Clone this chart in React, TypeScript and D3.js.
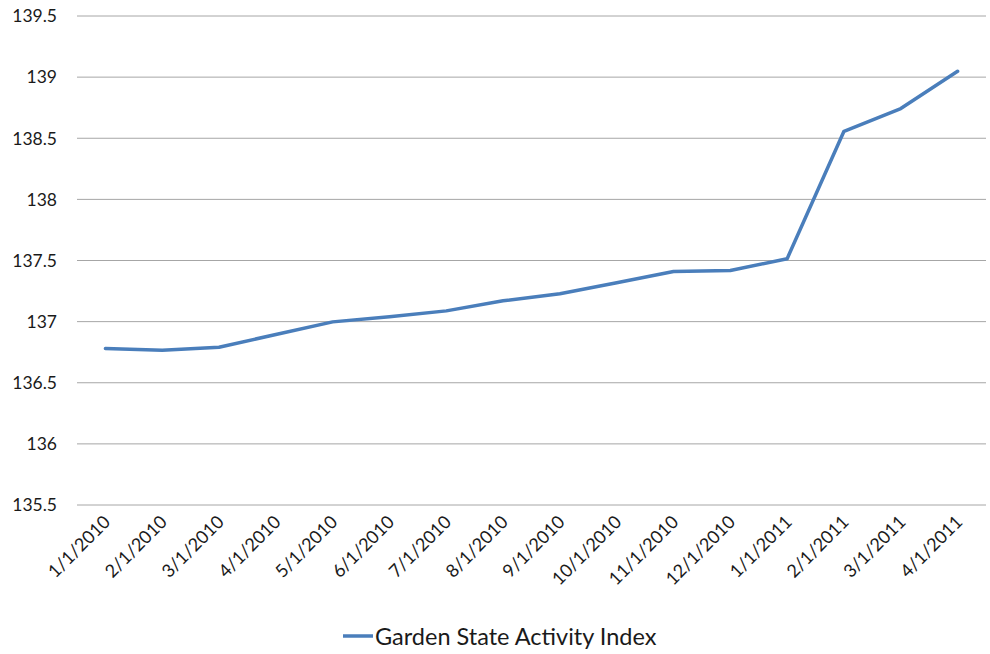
import React from "react";
import * as d3 from "d3";

const categories = [
  "1/1/2010", "2/1/2010", "3/1/2010", "4/1/2010", "5/1/2010", "6/1/2010",
  "7/1/2010", "8/1/2010", "9/1/2010", "10/1/2010", "11/1/2010", "12/1/2010",
  "1/1/2011", "2/1/2011", "3/1/2011", "4/1/2011",
];
const values = [
  136.78, 136.766, 136.79, 136.895, 136.998, 137.04, 137.088, 137.17,
  137.228, 137.318, 137.41, 137.418, 137.515, 138.557, 138.743, 139.048,
];
const yTicks = [135.5, 136, 136.5, 137, 137.5, 138, 138.5, 139, 139.5];
const seriesName = "Garden State Activity Index";

const W = 990;
const H = 654;
const M = { left: 77, right: 4, top: 16, bottom: 149 };

export default function App() {
  const x = d3
    .scaleBand<string>()
    .domain(categories)
    .range([M.left, W - M.right]);
  const y = d3
    .scaleLinear()
    .domain([135.5, 139.5])
    .range([H - M.bottom, M.top]);
  const line = d3
    .line<number>()
    .x((_, i) => (x(categories[i]) as number) + x.bandwidth() / 2)
    .y((d) => y(d));
  const font = "Lato, 'Open Sans', sans-serif";
  return (
    <svg
      width={W}
      height={H}
      style={{ position: "absolute", left: 0, top: 0, background: "#fff" }}
    >
      {yTicks.map((t) => (
        <g key={t}>
          <line
            x1={M.left}
            x2={W - M.right}
            y1={y(t)}
            y2={y(t)}
            stroke="#a6a6a6"
            strokeWidth={1}
          />
          <text
            x={57}
            y={y(t)}
            dy="0.36em"
            textAnchor="end"
            fontFamily={font}
            fontSize={17.5}
            fill="#1a1a1a"
          >
            {t}
          </text>
        </g>
      ))}
      {categories.map((c) => {
        const cx = (x(c) as number) + x.bandwidth() / 2;
        return (
          <text
            key={c}
            transform={`translate(${cx + 6},${523}) rotate(-45)`}
            textAnchor="end"
            fontFamily={font}
            fontSize={18}
            fill="#1a1a1a"
          >
            {c}
          </text>
        );
      })}
      <path
        d={line(values) || ""}
        fill="none"
        stroke="#4a7ebb"
        strokeWidth={3.5}
        strokeLinejoin="round"
        strokeLinecap="round"
      />
      <line x1={343} x2={373} y1={636} y2={636} stroke="#4a7ebb" strokeWidth={3.5} />
      <text x={375} y={645} fontFamily={font} fontSize={23.5} fill="#1a1a1a">
        {seriesName}
      </text>
    </svg>
  );
}
